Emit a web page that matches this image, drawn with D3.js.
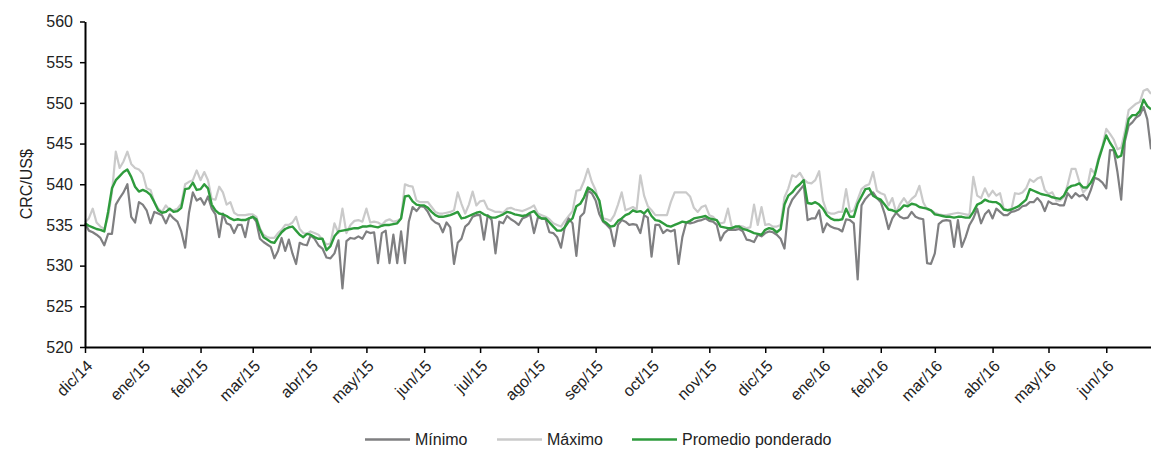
<!DOCTYPE html>
<html><head><meta charset="utf-8">
<script src="https://cdn.jsdelivr.net/npm/d3@7"></script>
<style>
body{margin:0;background:#fff}
text{font-family:"Liberation Sans",Arial,sans-serif;fill:#222}
</style>
</head><body>
<svg id="chart" width="1151" height="450"></svg>
<script>
// ---- data ----
const monthLabels = ["dic/14","ene/15","feb/15","mar/15","abr/15","may/15","jun/15","jul/15","ago/15","sep/15","oct/15","nov/15","dic/15","ene/16","feb/16","mar/16","abr/16","may/16","jun/16"];
const monthStarts = ["2014-12-01","2015-01-01","2015-02-01","2015-03-01","2015-04-01","2015-05-01","2015-06-01","2015-07-01","2015-08-01","2015-09-01","2015-10-01","2015-11-01","2015-12-01","2016-01-01","2016-02-01","2016-03-01","2016-04-01","2016-05-01","2016-06-01"];
const lastDate = "2016-06-25";
const yTicks = [520,525,530,535,540,545,550,555,560];
const seriesNames = ["Mínimo","Máximo","Promedio ponderado"];
const yLabel = "CRC/US$";

// values per month (approx. every two days)
const minimo = [
 [535.2,534.3,534.1,533.8,533.4,532.5,533.9,533.9,537.5,538.3,539,540,536,535.3,537.8],
 [537.5,536.8,535.2,536.6,536.4,536.2,535.2,536.3,535.8,535.4,534.2,532.2,536.5,539,538],
 [538.3,537.5,538.5,537,536.3,533.5,536.4,535.2,535,534,535,535,533.5,535.8],
 [536,535.4,533.3,532.9,532.6,532.3,530.9,531.8,533.4,531.8,533.2,531.5,530.2,532.8,532.6,532.5],
 [533.7,533.3,532.5,532.1,531,530.9,531.5,533.1,527.2,533,533.4,533.3,533.6,533.3],
 [534.2,534,534.1,530.3,534,534.3,530.3,533.8,530.3,534.2,530.3,535.4,537.2,536.7,537.3],
 [537.2,536.6,535.7,535.3,535.1,534.1,535.3,534.7,530.2,532.8,533.3,534.8,535.2,536,536.2],
 [536.2,533.2,536.2,535.6,531.5,535.4,535.2,536.1,535.7,535.4,535,535.8,536,536.3,534],
 [535.9,535.8,535.7,534.1,534,533.5,532.2,534.8,535.8,535.2,531.2,536,536.5,539.2,538.9],
 [538,536.3,535.4,535,534.5,532.4,535,535.6,535.4,535,535.1,535,534,536.2,535.9],
 [531.1,535,535,534,534.4,534.2,534.4,530.2,533.5,535.3,535.2,535.3,535.5,535.6,535.8],
 [535.5,535.4,535,533.1,534,534.4,534.4,534.4,534.5,534.2,533.2,533.1,532.9,533.8,533.6],
 [534,534.2,534.1,533.8,533.3,532.1,537,538.1,538.7,539.3,539.9,535.6,535.8,535.8,536.8],
 [534.1,535.2,534.8,534.6,534.5,534.2,535.7,535.6,535.2,528.3,537.4,538.2,538.7,539,538.3],
 [537.8,536.4,534.5,535.8,536.5,536,535.8,535.9,536.6,536,535.8,535.7,530.3,530.2],
 [531.5,535.1,535.5,535.6,535.5,532.3,535.6,532.3,533.5,535,535.8,537,535.2,536.3,536.8],
 [535.8,537,536.6,536.2,536.2,536.6,536.7,536.9,537.3,537.4,537.8,537.8,538.3,537.8,536.7],
 [537.9,537.6,537.6,537.4,537.4,538.9,538.3,538.9,538.5,538.7,538.1,539.3,540.8,540.6,540.2],
 [539.5,544.2,544.2,541.5,538.1,545.3,547.2,547.6,548.2,548.5,549.5,548,544.3]
];
const maximo = [
 [535.3,535.8,537,535.3,534.8,534.5,536,539,544,542,542.8,544,542.5,542,541.8],
 [541.3,539.5,539.3,537.8,537,536.6,537.4,536.8,536.8,537,537.6,540,540.3,540.5,541.7],
 [540.5,541.5,540.5,538.2,538.1,539.7,539,537.5,537.8,536.5,536.2,536.2,536.2,536.3],
 [536.3,536,534.6,533.8,533.5,533.4,533.4,534,534.4,535,535,535.3,536,534.5,534,533.9],
 [534.2,534,533.8,533.2,532.6,532.7,535.2,534,537,534,535,535.5,535.6,535.4],
 [537,535.3,535.4,535.3,535,535.5,535.7,535.4,535.5,535.8,540,539.8,539.7,538,537.8],
 [537.8,537.8,537.2,536.6,536.4,536.4,536.5,536.6,536.8,539,537.6,536.4,537.5,539.1,537.4],
 [537.9,538,537,536.8,536.6,536.6,536.5,537,537.1,536.9,536.8,536.7,536.9,537.1,537.4],
 [536.4,536.2,536,535.7,535.2,535,534.8,535.5,536.1,536.7,539.2,539.3,540.4,541.9,540.3],
 [539.3,537.5,535.8,535.7,535.5,536.2,537.5,539,536.8,537,537.2,536.9,541.1,538.6,537.3],
 [536.8,536.2,536.2,536.2,536.2,537.8,539,539,539,539,538.5,537.1,536.6,537.2,537.4],
 [536.2,536,535.5,535.2,535.3,537,534.8,534.5,534.9,534.8,534.6,534.7,537.5,535,537.2],
 [535,535.1,534.8,534.8,535,538.4,539.5,541.1,540.9,541.4,540.6,540.2,540.1,540.5,541.6],
 [538,536.6,536.4,536.4,536.6,536.6,539.4,536.6,536.8,538.1,539.4,539.8,540,541.5,539.2],
 [538.9,538.7,537.4,538.3,536.5,537.6,538.3,537.6,538.2,538.6,539.8,537.8,536.9,536.8],
 [536.5,536.3,536.2,536.2,536.3,536.4,536.5,536.4,536.3,536.2,540.9,538.6,538.3,539.5,538.5],
 [539.2,538.6,538.9,537,536.8,536.8,538.9,538.8,539,539.5,540.6,540.3,540.7,540.9,539.3],
 [538.8,539,538,538,538.4,540,541.9,541.9,540.3,539,539.5,541.9,541.3,543.3,544.7],
 [546.8,546.2,545.5,544.3,544.5,546.5,549.1,549.5,549.9,550.1,551.5,551.7,551.1]
];
const promedio = [
 [535.2,534.9,534.7,534.5,534.4,534.2,536.6,539.5,540.5,541,541.5,541.8,540.9,539.7,539.1],
 [539.3,539.1,538.7,537.8,536.8,536.5,536.6,537,536.6,536.7,537.1,539.4,539.5,540.2,539.3],
 [539.4,540,539.5,537.5,536.8,536.4,536.3,536.1,535.8,535.6,535.7,535.6,535.6,535.8],
 [536,535.7,534.4,533.5,533.2,532.9,532.8,533.5,534.1,534.5,534.7,534.8,534.3,533.8,533.5,533.9],
 [533.8,533.5,533.3,533.3,531.9,532.4,533.6,534.2,534.3,534.4,534.5,534.6,534.6,534.8],
 [534.8,534.9,534.8,534.7,534.9,535,535,535.1,535.2,535.8,538.5,538.6,537.9,537.5,537.4],
 [537.4,537.1,536.6,536.2,536,536,536.1,536.2,536.4,536.6,535.8,535.9,536.1,536.3,536.5],
 [536.6,536.3,536.1,535.9,535.9,536.1,536.3,536.6,536.5,536.3,536.2,536.1,536.2,536.5,536.7],
 [536.1,535.8,535.8,535.3,534.8,534.3,534.3,534.7,535.4,535.8,537.3,537.6,538.4,539.6,539.3],
 [538.8,538,535.5,535.2,534.8,534.9,535.5,535.8,536.2,536.4,536.8,536.6,536.7,536.4,536.9],
 [536.1,535.6,535.5,535.2,534.9,534.8,535,535.2,535.4,535.3,535.5,535.8,535.9,536,536.1],
 [535.8,535.7,535.6,534.8,534.7,534.6,534.6,534.8,534.8,534.5,534.4,534.2,534,533.9,533.8],
 [534.4,534.6,534.5,534.1,534.5,537.5,538.6,539,539.6,540,540.5,537.7,537.6,537.8,537.5],
 [537,536.2,535.8,535.6,535.6,535.7,537,536,536,537.6,538.5,539.4,539.5,538.6,538.3],
 [538.1,537.5,536.9,536.8,536.6,536.9,537.4,537.3,537.6,537.5,537.2,537.1,537,536.8],
 [536.3,536.2,536.1,536,536,535.9,536,536,535.9,535.9,536.6,537.5,537.7,538.1,537.9],
 [537.8,537.8,537.5,536.9,536.8,536.9,537.1,537.3,537.7,538.1,539.4,539.2,539,538.8,538.7],
 [538.6,538.4,538.3,538.2,538.6,539.5,539.8,539.9,540.1,539.6,539.6,540.2,541.1,543,544.5],
 [546,545.1,544.4,543.3,543.5,545.7,548,548.5,548.5,549,550.4,549.6,549.2]
];

// ---- build dated points ----
const parse = d3.utcParse("%Y-%m-%d");
const starts = monthStarts.map(parse);
const endDate = parse(lastDate);
function toPoints(monthly){
  const pts = [];
  monthly.forEach((vals, m) => {
    const s = starts[m].getTime();
    const isLast = m === monthly.length - 1;
    const e = isLast ? endDate.getTime() : starts[m+1].getTime();
    const step = isLast ? (e - s) / (vals.length - 1) : (e - s) / vals.length;
    vals.forEach((v, i) => pts.push({date: new Date(s + i*step), value: v}));
  });
  return pts;
}

const svg = d3.select("#chart");
const margin = {left:85, right:0, top:21.5, bottom:103};
const W = 1151, H = 450;
const x = d3.scaleUtc().domain([starts[0], endDate]).range([margin.left, W - margin.right]);
const y = d3.scaleLinear().domain([520, 560]).range([H - margin.bottom, margin.top]);

const colors = {min:"#7f7f81", max:"#cacaca", avg:"#2e9b3c"};
const line = d3.line().x(d => x(d.date)).y(d => y(d.value));

const series = [
  {key:"max", data: toPoints(maximo), name: seriesNames[1], w:2.2},
  {key:"min", data: toPoints(minimo), name: seriesNames[0], w:2.2},
  {key:"avg", data: toPoints(promedio), name: seriesNames[2], w:2.4}
];

svg.append("g").selectAll("path").data(series).join("path")
  .attr("d", d => line(d.data))
  .attr("fill","none")
  .attr("stroke", d => colors[d.key])
  .attr("stroke-width", d => d.w)
  .attr("stroke-linejoin","round");

// y axis
const yAxis = svg.append("g").attr("transform",`translate(${margin.left},0)`)
  .call(d3.axisLeft(y).tickValues(yTicks).tickSize(5).tickSizeOuter(0).tickPadding(7).tickFormat(d3.format("d")));
yAxis.select(".domain").attr("stroke","#000").attr("stroke-width",2);
yAxis.selectAll(".tick line").attr("stroke","#000").attr("stroke-width",1.5);
yAxis.selectAll(".tick text").attr("font-size",16).attr("fill","#222")
  .attr("font-family","Liberation Sans, Arial, sans-serif");

// x axis
const xAxis = svg.append("g").attr("transform",`translate(0,${H - margin.bottom})`)
  .call(d3.axisBottom(x).tickValues(starts).tickSize(6).tickSizeOuter(0)
    .tickFormat((d,i) => monthLabels[i]));
xAxis.select(".domain").attr("stroke","#000").attr("stroke-width",2);
xAxis.selectAll(".tick line").attr("stroke","#000").attr("stroke-width",1.5);
xAxis.selectAll(".tick text")
  .attr("font-size",16).attr("fill","#222")
  .attr("font-family","Liberation Sans, Arial, sans-serif")
  .attr("text-anchor","end")
  .attr("dy","0.35em")
  .attr("transform","translate(4,16) rotate(-45)")
  .attr("y",0).attr("x",0);

// y label
svg.append("text")
  .attr("transform",`translate(26,${(margin.top + H - margin.bottom)/2 + 0}) rotate(-90)`)
  .attr("text-anchor","middle").attr("font-size",16).attr("dy","0.35em")
  .text(yLabel);

// legend
const legendItems = [
  {name: seriesNames[0], color: colors.min, x: 365},
  {name: seriesNames[1], color: colors.max, x: 497},
  {name: seriesNames[2], color: colors.avg, x: 632}
];
const lg = svg.append("g").selectAll("g").data(legendItems).join("g")
  .attr("transform", d => `translate(${d.x},439.5)`);
lg.append("line").attr("x1",0).attr("x2",45).attr("stroke", d => d.color).attr("stroke-width",2.4);
lg.append("text").attr("x",50).attr("dy","0.35em").attr("font-size",16).text(d => d.name);
</script>
</body></html>
